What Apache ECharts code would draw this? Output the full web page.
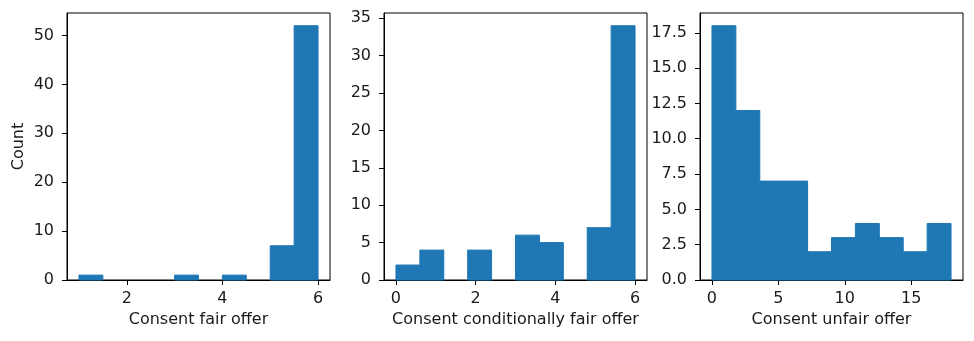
<!DOCTYPE html>
<html>
<head>
<meta charset="utf-8">
<script src="https://cdn.jsdelivr.net/npm/echarts@6/dist/echarts.min.js"></script>
<style>
  html, body { margin: 0; padding: 0; background: #ffffff; }
  #chart { width: 974px; height: 341px; }
</style>
</head>
<body>
<div id="chart"></div>
<script>
// Histogram bin edges and counts for each consent question
const fairEdges = [1.0, 1.5, 2.0, 2.5, 3.0, 3.5, 4.0, 4.5, 5.0, 5.5, 6.0];
const fairCounts = [1, 0, 0, 0, 1, 0, 1, 0, 7, 52];

const condEdges = [0.0, 0.6, 1.2, 1.8, 2.4, 3.0, 3.6, 4.2, 4.8, 5.4, 6.0];
const condCounts = [2, 4, 0, 4, 0, 6, 5, 0, 7, 34];

const unfairEdges = [0.0, 1.8, 3.6, 5.4, 7.2, 9.0, 10.8, 12.6, 14.4, 16.2, 18.0];
const unfairCounts = [18, 12, 7, 7, 2, 3, 4, 3, 2, 4];

// Axis titles and tick labels
const xTitles = ['Consent fair offer', 'Consent conditionally fair offer', 'Consent unfair offer'];
const yTitle = 'Count';
const fairXTicks = [2, 4, 6];
const condXTicks = [0, 2, 4, 6];
const unfairXTicks = [0, 5, 10, 15];
const fairYTicks = [0, 10, 20, 30, 40, 50];
const condYTicks = [0, 5, 10, 15, 20, 25, 30, 35];
const unfairYTicks = [0, 2.5, 5, 7.5, 10, 12.5, 15, 17.5];

const FONT = 'DejaVu Sans';
const FS = 16;
const TEXT = '#1a1a1a';
const BAR = '#1f77b4';

function toBins(edges, counts) {
  return counts.map((c, i) => [edges[i], edges[i + 1], c]);
}

// One filled rectangle per bin; empty bins draw nothing
function renderBin(params, api) {
  if (!(api.value(2) > 0)) return null;
  const p0 = api.coord([api.value(0), 0]);
  const p1 = api.coord([api.value(1), api.value(2)]);
  return {
    type: 'rect',
    shape: { x: p0[0], y: p1[1], width: p1[0] - p0[0], height: p0[1] - p1[1] },
    style: { fill: BAR, stroke: BAR, lineWidth: 1 }
  };
}

// Data extent plus 5% padding on each side, as with default autoscaling
function padded(lo, hi) {
  const m = (hi - lo) * 0.05;
  return [lo - m, hi + m];
}

function xAxisFor(idx, edges, ticks, title) {
  const ext = padded(edges[0], edges[edges.length - 1]);
  return {
    type: 'value', gridIndex: idx, min: ext[0], max: ext[1],
    name: title, nameLocation: 'middle', nameGap: 31,
    nameTextStyle: { fontFamily: FONT, fontSize: FS, color: TEXT },
    axisLine: { show: true, onZero: false, lineStyle: { color: '#000', width: 1 } },
    axisTick: { show: true, inside: false, length: 5, customValues: ticks, lineStyle: { color: '#000' } },
    axisLabel: { show: true, margin: 11, customValues: ticks, fontFamily: FONT, fontSize: FS, color: TEXT },
    splitLine: { show: false }
  };
}

function yAxisFor(idx, counts, ticks, title) {
  const top = Math.max.apply(null, counts) * 1.05;
  const decimals = ticks.some(t => t % 1 !== 0);
  const ax = {
    type: 'value', gridIndex: idx, min: 0, max: top,
    axisLine: { show: true, onZero: false, lineStyle: { color: '#000', width: 1 } },
    axisTick: { show: true, inside: false, length: 5, customValues: ticks, lineStyle: { color: '#000' } },
    axisLabel: { show: true, margin: 13, customValues: ticks, fontFamily: FONT, fontSize: FS, color: TEXT,
                 formatter: v => (decimals ? v.toFixed(1) : String(v)) },
    splitLine: { show: false }
  };
  if (title) {
    ax.name = title;
    ax.nameLocation = 'middle';
    ax.nameGap = 40;
    ax.nameTextStyle = { fontFamily: FONT, fontSize: FS, color: TEXT };
  }
  return ax;
}

const chart = echarts.init(document.getElementById('chart'), null, { renderer: 'canvas' });
const gridBase = { top: 13, height: 267, width: 263, show: true, borderColor: '#000', borderWidth: 1, backgroundColor: '#fff' };

chart.setOption({
  animation: false,
  backgroundColor: '#ffffff',
  grid: [
    Object.assign({ left: 67 }, gridBase),
    Object.assign({ left: 384 }, gridBase),
    Object.assign({ left: 700 }, gridBase)
  ],
  xAxis: [
    xAxisFor(0, fairEdges, fairXTicks, xTitles[0]),
    xAxisFor(1, condEdges, condXTicks, xTitles[1]),
    xAxisFor(2, unfairEdges, unfairXTicks, xTitles[2])
  ],
  yAxis: [
    yAxisFor(0, fairCounts, fairYTicks, yTitle),
    yAxisFor(1, condCounts, condYTicks, null),
    yAxisFor(2, unfairCounts, unfairYTicks, null)
  ],
  series: [
    { type: 'custom', xAxisIndex: 0, yAxisIndex: 0, renderItem: renderBin, encode: { x: [0, 1], y: 2 }, data: toBins(fairEdges, fairCounts) },
    { type: 'custom', xAxisIndex: 1, yAxisIndex: 1, renderItem: renderBin, encode: { x: [0, 1], y: 2 }, data: toBins(condEdges, condCounts) },
    { type: 'custom', xAxisIndex: 2, yAxisIndex: 2, renderItem: renderBin, encode: { x: [0, 1], y: 2 }, data: toBins(unfairEdges, unfairCounts) }
  ]
});
</script>
</body>
</html>
